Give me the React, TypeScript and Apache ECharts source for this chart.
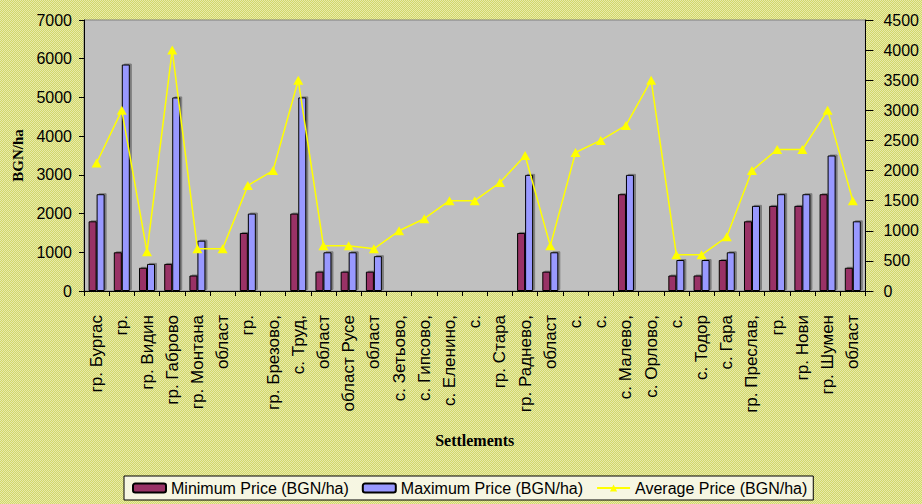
import React, { useEffect, useRef } from "react";
import * as echarts from "echarts";

const categories: string[] = [
  "гр. Бургас", "гр.", "гр. Видин", "гр. Габрово", "гр. Монтана", "област",
  "гр.", "гр. Брезово,", "с. Труд,", "област", "област Русе", "област",
  "с. Зетьово,", "с. Гипсово,", "с. Еленино,", "с.", "гр. Стара", "гр. Раднево,",
  "област", "с.", "с.", "с. Малево,", "с. Орлово,", "с.", "с. Тодор", "с. Гара",
  "гр. Преслав,", "гр.", "гр. Нови", "гр. Шумен", "област",
];

const minPrice: (number | null)[] = [
  1800, 1000, 600, 700, 400, null, 1500, null, 2000, 500, 500, 500,
  null, null, null, null, null, 1500, 500, null, null, 2500, null, 400, 400, 800,
  1800, 2200, 2200, 2500, 600,
];

const maxPrice: (number | null)[] = [
  2500, 5850, 700, 5000, 1300, null, 2000, null, 5000, 1000, 1000, 900,
  null, null, null, null, null, 3000, 1000, null, null, 3000, null, 800, 800, 1000,
  2200, 2500, 2500, 3500, 1800,
];

const avgPrice: number[] = [
  2125, 3000, 650, 4000, 700, 700, 1750, 2000, 3500, 750, 750, 700,
  1000, 1200, 1500, 1500, 1800, 2250, 750, 2300, 2500, 2750, 3500, 600, 600, 900,
  2000, 2350, 2350, 3000, 1500,
];

const leftTicks = { min: 0, max: 7000, interval: 1000 };
const rightTicks = { min: 0, max: 4500, interval: 500 };

const SANS = "'Liberation Sans', Arial, sans-serif";
const SERIF = "'Liberation Serif', 'Times New Roman', serif";

export default function App() {
  const ref = useRef<HTMLDivElement>(null);

  useEffect(() => {
    document.body.style.margin = "0";
    if (!ref.current) return;
    const chart = echarts.init(ref.current, undefined, { renderer: "svg" });
    const barStyle = (color: string) => ({
      color,
      borderColor: "#000000",
      borderWidth: 1,
      shadowColor: "rgba(0,0,0,0.35)",
      shadowBlur: 0,
      shadowOffsetX: 2,
      shadowOffsetY: -1,
    });
    const plain = (v: number) => String(v);
    chart.setOption({
      animation: false,
      backgroundColor: "transparent",
      textStyle: { fontFamily: SANS },
      grid: {
        left: 84,
        right: 54,
        top: 20,
        bottom: 213,
        show: true,
        backgroundColor: "#C0C0C0",
        borderColor: "#808080",
        borderWidth: 1,
        containLabel: false,
      },
      legend: {
        left: 124,
        top: 476,
        orient: "horizontal",
        itemWidth: 33,
        itemHeight: 9,
        itemGap: 13,
        padding: [4, 6, 4, 8],
        borderColor: "#000000",
        borderWidth: 1,
        backgroundColor: "#F6F6E2",
        textStyle: { fontSize: 16, color: "#000000", fontFamily: SANS },
        data: [
          "Minimum Price (BGN/ha)",
          "Maximum Price (BGN/ha)",
          "Average Price (BGN/ha)",
        ],
      },
      xAxis: {
        type: "category",
        data: categories,
        boundaryGap: true,
        name: "Settlements",
        nameLocation: "middle",
        nameGap: 141,
        nameTextStyle: {
          fontFamily: SERIF,
          fontWeight: "bold",
          fontSize: 16,
          color: "#000000",
        },
        axisLine: { show: true, lineStyle: { color: "#000000", width: 1 } },
        axisTick: { show: true, length: 5, lineStyle: { color: "#000000" } },
        axisLabel: {
          interval: 0,
          rotate: 90,
          margin: 24,
          fontSize: 17,
          color: "#000000",
          fontFamily: SANS,
        },
        splitLine: { show: false },
      },
      yAxis: [
        {
          type: "value",
          position: "left",
          ...leftTicks,
          name: "BGN/ha",
          nameLocation: "middle",
          nameGap: 58,
          nameTextStyle: {
            fontFamily: SERIF,
            fontWeight: "bold",
            fontSize: 15,
            color: "#000000",
          },
          axisLine: { show: true, lineStyle: { color: "#000000", width: 1 } },
          axisTick: { show: true, length: 5, lineStyle: { color: "#000000" } },
          axisLabel: { margin: 12, fontSize: 16, color: "#000000", fontFamily: SANS, formatter: plain },
          splitLine: { show: false },
        },
        {
          type: "value",
          position: "right",
          ...rightTicks,
          axisLine: { show: true, lineStyle: { color: "#000000", width: 1 } },
          axisTick: { show: true, length: 8, lineStyle: { color: "#000000" } },
          axisLabel: { margin: 18, fontSize: 16, color: "#000000", fontFamily: SANS, formatter: plain },
          splitLine: { show: false },
        },
      ],
      series: [
        {
          name: "Minimum Price (BGN/ha)",
          type: "bar",
          yAxisIndex: 0,
          data: minPrice,
          barWidth: 8,
          barGap: "0%",
          itemStyle: barStyle("#993366"),
        },
        {
          name: "Maximum Price (BGN/ha)",
          type: "bar",
          yAxisIndex: 0,
          data: maxPrice,
          barWidth: 8,
          barGap: "0%",
          itemStyle: barStyle("#9999FF"),
        },
        {
          name: "Average Price (BGN/ha)",
          type: "line",
          yAxisIndex: 1,
          data: avgPrice,
          symbol: "triangle",
          symbolSize: [10, 9],
          showSymbol: true,
          lineStyle: { color: "#FFFF00", width: 1.5 },
          itemStyle: { color: "#FFFF00", borderWidth: 0 },
        },
      ],
    });
    return () => chart.dispose();
  }, []);

  return (
    <div
      ref={ref}
      style={{
        width: 922,
        height: 504,
        background:
          "repeating-conic-gradient(#D2D76A 0% 25%, #E8EBAA 0% 50%) 0 0 / 2px 2px",
      }}
    />
  );
}
